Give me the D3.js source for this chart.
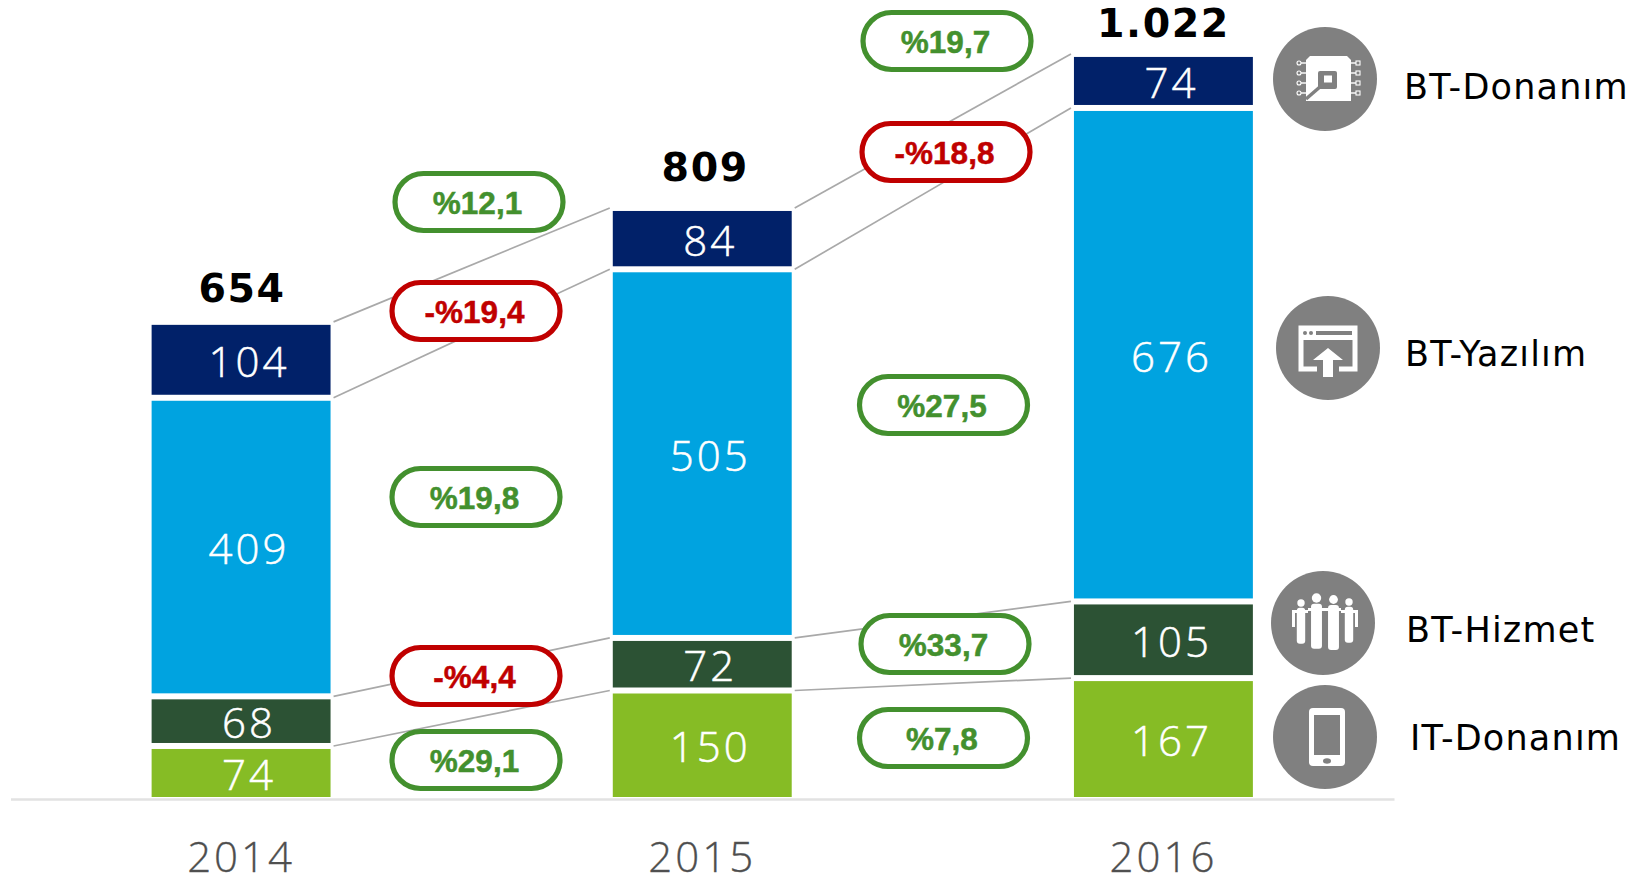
<!DOCTYPE html>
<html><head><meta charset="utf-8">
<script src="https://cdn.jsdelivr.net/npm/d3@7"></script>
<style>html,body{margin:0;padding:0;background:#fff;overflow:hidden}svg{display:block}</style>
</head><body><svg id="c" width="1641" height="879"></svg>
<script>
// ---- data ----
const years = ["2014","2015","2016"];
const seriesNames = ["IT-Donanım","BT-Hizmet","BT-Yazılım","BT-Donanım"];
const itDonanim = [74,150,167];
const btHizmet = [68,72,105];
const btYazilim = [409,505,676];
const btDonanim = [104,84,74];
const totalLabels = ["654","809","1.022"];
const changeLabels = ["%29,1","-%4,4","%19,8","-%19,4","%12,1","%7,8","%33,7","%27,5","-%18,8","%19,7"];
const changeUp = [true,false,true,false,true,true,true,true,false,true];

// ---- layout ----
const colors = ["#86BC25","#2C5234","#00A3E0","#012169"];
const pillCenters = [[476,760],[476,676],[476,497],[476,311],[479,202],[943.5,738],[945,644],[943.5,405],[946,152],[947,41]];
const legendY = [737,623,348,79], legendCX=[1325,1323,1328,1325];
const legendText = [[1410,750],[1406,642],[1405,366],[1404,99]];
const totalLift = [23,30,20];
const totalShift = [1,3,0];
const GAP = 6;
const svg = d3.select("#c");
const x = d3.scaleBand().domain(years).range([10.5,1394]).paddingInner(.612).paddingOuter(.306);
const y = d3.scaleLinear().domain([0,1000]).range([797,67]);
const stackRows = years.map((yr,i)=>({year:yr,s0:itDonanim[i],s1:btHizmet[i],s2:btYazilim[i],s3:btDonanim[i]}));
const stack = d3.stack().keys(["s0","s1","s2","s3"])(stackRows);

// connectors (behind pills)
const gl = svg.append("g");
stack.forEach(layer=>{
  d3.pairs(layer.map((d,i)=>({d,i}))).forEach(([a,b])=>{
    gl.append("line")
      .attr("x1",x(years[a.i])+x.bandwidth()+3).attr("y1",y(a.d[1])+GAP/2)
      .attr("x2",x(years[b.i])-3).attr("y2",y(b.d[1])+GAP/2)
      .attr("stroke","#a9a9a9").attr("stroke-width",1.7);
  });
});

// axis
const ax = svg.append("g").attr("transform","translate(0,799)").call(d3.axisBottom(x).tickSize(0).tickPadding(43));
ax.select(".domain").attr("stroke","#e2e2e2").attr("stroke-width",2.4);
ax.selectAll("text").attr("font-family","'Open Sans'").attr("font-weight",300)
  .attr("font-size",42).attr("fill","#4d4d4d").attr("letter-spacing",3).attr("stroke","#595959").attr("stroke-width",.35);

// bars
stack.forEach((layer,k)=>{
  const g = svg.append("g");
  g.selectAll("rect").data(layer).join("rect")
    .attr("x",(d,i)=>x(years[i])).attr("width",x.bandwidth())
    .attr("y",d=>y(d[1])+GAP).attr("height",d=>y(d[0])-y(d[1])-GAP)
    .attr("fill",colors[k]);
  g.selectAll("text").data(layer).join("text")
    .attr("x",(d,i)=>x(years[i])+x.bandwidth()/2+8)
    .attr("y",d=>(y(d[1])+GAP+y(d[0]))/2+2).attr("dy",".36em")
    .attr("text-anchor","middle").attr("font-family","'Open Sans'").attr("font-weight",300)
    .attr("font-size",42).attr("letter-spacing",3).attr("fill","#fff").attr("stroke","#fff").attr("stroke-width",.5)
    .text(d=>d[1]-d[0]);
});

// totals
const topLayer = stack[3];
svg.append("g").selectAll("text").data(totalLabels).join("text")
  .attr("x",(d,i)=>x(years[i])+x.bandwidth()/2+totalShift[i])
  .attr("y",(d,i)=>y(topLayer[i][1])+GAP-totalLift[i])
  .attr("text-anchor","middle").attr("font-family","'DejaVu Sans'").attr("font-weight",700)
  .attr("font-size",39.5).attr("letter-spacing",1.6).attr("fill","#000").text(d=>d);

// pills
const PW=168,PH=57;
const gp = svg.append("g").selectAll("g").data(changeLabels).join("g")
  .attr("transform",(d,i)=>`translate(${pillCenters[i][0]},${pillCenters[i][1]})`);
gp.append("rect").attr("x",-PW/2).attr("y",-PH/2).attr("width",PW).attr("height",PH).attr("rx",PH/2)
  .attr("fill","#fff").attr("stroke",(d,i)=>changeUp[i]?"#43902E":"#C00000").attr("stroke-width",5.2);
gp.append("text").attr("text-anchor","middle").attr("x",-1.5).attr("y",1).attr("dy",".36em")
  .attr("font-family","'Liberation Sans'").attr("font-weight",700).attr("font-size",31.5)
  .attr("stroke",(d,i)=>changeUp[i]?"#43902E":"#C00000").attr("stroke-width",.5)
  .attr("fill",(d,i)=>changeUp[i]?"#43902E":"#C00000").text(d=>d);

// legend
const GR="#808080", W="#fff";
const lg = svg.append("g").selectAll("g").data(seriesNames).join("g")
  .attr("transform",(d,i)=>`translate(${legendCX[i]},${legendY[i]})`);
lg.append("circle").attr("r",52).attr("fill",GR);
svg.append("g").selectAll("text").data(seriesNames).join("text")
  .attr("x",(d,i)=>legendText[i][0]).attr("y",(d,i)=>legendText[i][1])
  .attr("font-family","'DejaVu Sans'").attr("font-size",35).attr("letter-spacing",1.2).attr("fill","#000").text(d=>d);

// icon: phone
const ph = lg.filter((d,i)=>i===0);
ph.append("rect").attr("x",-16).attr("y",-29).attr("width",36).attr("height",58).attr("rx",4).attr("fill",W);
ph.append("rect").attr("x",-11).attr("y",-22).attr("width",26).attr("height",40).attr("fill",GR);
ph.append("ellipse").attr("cx",2).attr("cy",24).attr("rx",4).attr("ry",2.7).attr("fill",GR);
// icon: people
const pe = lg.filter((d,i)=>i===1);
[[-22,-20,3.7,1],[-6.5,-25,4.7,1.3],[10.5,-23.5,4.4,1.3],[26,-21,3.7,1]].forEach(([cx,cy,r,s])=>{
  pe.append("circle").attr("cx",cx).attr("cy",cy).attr("r",r).attr("fill",W);
  pe.append("rect").attr("x",cx-4.2*s).attr("y",cy+r+1).attr("width",8.4*s).attr("height",s>1?45:36).attr("rx",3).attr("fill",W);
});
pe.append("path").attr("fill",W).attr("d","M-31,-13H-15V-10H-28V4H-31ZM-15,-15H18V-12H-15ZM18,-13H35V4H32V-10H18Z");
[-14.5,2,18].forEach(v=>pe.append("line").attr("x1",v).attr("x2",v).attr("y1",-10).attr("y2",12).attr("stroke",GR).attr("stroke-width",1.6));
// icon: window
const wi = lg.filter((d,i)=>i===2);
wi.append("path").attr("fill","none").attr("stroke",W).attr("stroke-width",5)
  .attr("d","M-11,21H-27V-20H27V21H11");
wi.append("rect").attr("x",-29).attr("y",-22).attr("width",58).attr("height",14).attr("rx",2).attr("fill",W);
wi.append("circle").attr("cx",-23).attr("cy",-15).attr("r",2).attr("fill",GR);
wi.append("circle").attr("cx",-17).attr("cy",-15).attr("r",2).attr("fill",GR);
wi.append("rect").attr("x",-12).attr("y",-17).attr("width",36).attr("height",4).attr("fill",GR);
wi.append("path").attr("fill",W).attr("d","M0,0L15,12H5V29H-5V12H-15Z");
// icon: chip
const ch = lg.filter((d,i)=>i===3);
ch.append("path").attr("fill",W).attr("d","M-15,-23H22L26,-19V22H-19V-19Z");
ch.append("rect").attr("x",-7).attr("y",-8).attr("width",19).attr("height",18).attr("rx",2).attr("fill",GR);
ch.append("rect").attr("x",-1).attr("y",-3.5).attr("width",8).attr("height",7).attr("fill",W);
ch.append("line").attr("x1",-4).attr("y1",7).attr("x2",-19).attr("y2",20).attr("stroke",GR).attr("stroke-width",3.5);
[-16,-6,4,14].forEach(v=>{
  ch.append("line").attr("x1",-24).attr("x2",-19).attr("y1",v).attr("y2",v).attr("stroke",W).attr("stroke-width",1.4);
  ch.append("circle").attr("cx",-26).attr("cy",v).attr("r",2).attr("fill","none").attr("stroke",W).attr("stroke-width",1.1);
  ch.append("line").attr("x1",26).attr("x2",31).attr("y1",v).attr("y2",v).attr("stroke",W).attr("stroke-width",1.4);
  ch.append("rect").attr("x",31).attr("y",v-2).attr("width",4).attr("height",4).attr("fill","none").attr("stroke",W).attr("stroke-width",1.1);
});
</script></body></html>
